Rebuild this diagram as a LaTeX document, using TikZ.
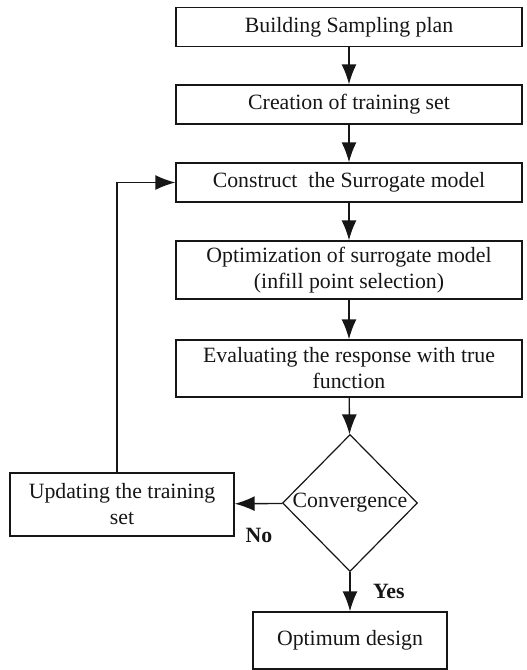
\documentclass[tikz,border=0pt]{standalone}
\usepackage{fontspec}
\setmainfont{Liberation Serif}
\usetikzlibrary{shapes.geometric,arrows.meta}
\definecolor{flowink}{HTML}{161616}
\newcommand{\flowframe}{(0,0) rectangle (526,670)}

\begin{document}
\begin{tikzpicture}[x=0.5pt, y=-0.5pt, every node/.style={font=\fontsize{10.9}{13}\selectfont, text=flowink},
  procbox/.style={draw=flowink, line width=0.7pt, align=center, inner sep=0pt, minimum width=173pt, minimum height=19.5pt},
  decisionbox/.style={draw=flowink, line width=0.6pt, diamond, inner sep=0pt, minimum width=67.5pt, minimum height=68.5pt},
  flowarrow/.style={draw=flowink, line width=0.7pt, -{Latex[length=10pt, width=7.5pt]}},
  answer/.style={font=\fontsize{10.9}{13}\selectfont\bfseries}]

  \useasboundingbox \flowframe;

  %% main column
  \node[procbox] (plan) at (349,27) {Building Sampling plan};
  \node[procbox] (train) at (349,104.5) {Creation of training set};
  \node[procbox] (surr) at (349,182.5) {Construct\ \ the Surrogate model};
  \node[procbox, minimum height=29pt] (infill) at (349,270) {Optimization of surrogate model\\(infill point selection)};
  \node[procbox, minimum height=28.5pt] (eval) at (349,368.5) {Evaluating the response with true\\function};
  \node[decisionbox] (conv) at (350,503) {Convergence};
  \node[procbox, minimum width=97pt, minimum height=28.5pt] (optdes) at (350,640.5) {Optimum design};

  %% side branch
  \node[procbox, minimum width=112pt, minimum height=31.5pt] (update) at (122,504.5) {Updating the training\\set};

  \draw[flowarrow] (plan) -- (train);
  \draw[flowarrow] (train) -- (surr);
  \draw[flowarrow] (surr) -- (infill);
  \draw[flowarrow] (infill) -- (eval);
  \draw[flowarrow] (eval) -- (conv);
  \draw[flowarrow] (conv) -- (optdes);
  \draw[flowarrow] (conv) -- (update);
  \draw[flowarrow] ([xshift=-2.5pt]update.north) |- (surr.west);

  \node[answer, anchor=north] (no) at (259,521) {No};
  \node[answer, anchor=west] (yes) at (366,591) {Yes};

\end{tikzpicture}
\end{document}
